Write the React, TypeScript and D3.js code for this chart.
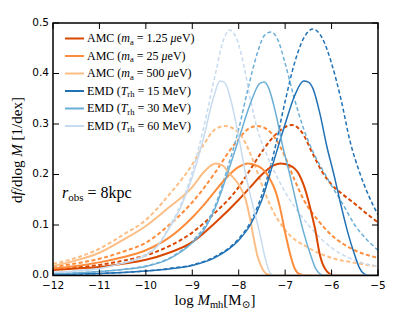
import React from 'react';
import * as d3 from 'd3';

// log10 M_mh vs df/dlogM
const amc125Solid: [number, number][] = [
  [-12, 0.011], [-11.5, 0.014], [-11, 0.017], [-10.5, 0.023], [-10, 0.031], [-9.5, 0.045],
  [-9, 0.066], [-8.5, 0.105], [-8, 0.15], [-7.75, 0.175], [-7.5, 0.2], [-7.25, 0.218],
  [-7.1, 0.222], [-6.9, 0.218], [-6.7, 0.2], [-6.55, 0.165], [-6.45, 0.13], [-6.35, 0.09],
  [-6.25, 0.04], [-6.1, 0.008], [-5.95, 0], [-5, 0],
];
const amc25Solid: [number, number][] = [
  [-12, 0.014], [-11.5, 0.019], [-11, 0.026], [-10.5, 0.036], [-10, 0.05], [-9.5, 0.075],
  [-9, 0.115], [-8.75, 0.14], [-8.5, 0.168], [-8.25, 0.195], [-8, 0.215], [-7.8, 0.222],
  [-7.55, 0.215], [-7.35, 0.195], [-7.2, 0.165], [-7.1, 0.13], [-7.0, 0.085], [-6.9, 0.045],
  [-6.8, 0.015], [-6.7, 0.003], [-6.55, 0], [-5, 0],
];
const amc500Solid: [number, number][] = [
  [-12, 0.019], [-11.5, 0.03], [-11, 0.045], [-10.5, 0.07], [-10, 0.098], [-9.5, 0.135],
  [-9, 0.175], [-8.75, 0.205], [-8.5, 0.222], [-8.35, 0.218], [-8.2, 0.202], [-8.0, 0.18],
  [-7.85, 0.15], [-7.75, 0.11], [-7.7, 0.085], [-7.6, 0.04], [-7.5, 0.015], [-7.4, 0.003],
  [-7.25, 0], [-5, 0],
];
const amc125Dashed: [number, number][] = [
  [-12, 0.012], [-11.5, 0.016], [-11, 0.021], [-10.5, 0.029], [-10, 0.04], [-9.5, 0.058],
  [-9, 0.085], [-8.5, 0.125], [-8, 0.175], [-7.75, 0.21], [-7.5, 0.245], [-7.25, 0.275],
  [-7.0, 0.294], [-6.85, 0.298], [-6.65, 0.285], [-6.4, 0.24], [-6.2, 0.205], [-6.0, 0.18],
  [-5.75, 0.16], [-5.5, 0.142], [-5.25, 0.123], [-5.0, 0.105],
];
const amc25Dashed: [number, number][] = [
  [-12, 0.017], [-11.5, 0.024], [-11, 0.033], [-10.5, 0.047], [-10, 0.065], [-9.5, 0.1],
  [-9, 0.145], [-8.5, 0.205], [-8.25, 0.24], [-8, 0.27], [-7.8, 0.29], [-7.6, 0.296],
  [-7.4, 0.29], [-7.2, 0.27], [-7.0, 0.235], [-6.8, 0.19], [-6.6, 0.15], [-6.3, 0.11],
  [-6.0, 0.08], [-5.5, 0.05], [-5.0, 0.035],
];
const amc500Dashed: [number, number][] = [
  [-12, 0.023], [-11.5, 0.035], [-11, 0.053], [-10.5, 0.08], [-10, 0.11], [-9.5, 0.16],
  [-9, 0.22], [-8.75, 0.26], [-8.5, 0.29], [-8.3, 0.296], [-8.1, 0.29], [-7.9, 0.27],
  [-7.7, 0.23], [-7.5, 0.18], [-7.3, 0.135], [-7.0, 0.09], [-6.5, 0.055], [-6.0, 0.035],
  [-5.5, 0.025], [-5.0, 0.018],
];
const emd15Solid: [number, number][] = [
  [-12, 0.002], [-11.5, 0.003], [-11, 0.004], [-10.5, 0.006], [-10, 0.009], [-9.5, 0.013],
  [-9, 0.02], [-8.5, 0.036], [-8.0, 0.07], [-7.75, 0.1], [-7.5, 0.15], [-7.25, 0.225],
  [-7.0, 0.3], [-6.8, 0.355], [-6.6, 0.385], [-6.5, 0.383], [-6.4, 0.37], [-6.25, 0.32],
  [-6.1, 0.255], [-5.95, 0.2], [-5.8, 0.14], [-5.65, 0.085], [-5.5, 0.04], [-5.4, 0.015],
  [-5.3, 0.003], [-5.2, 0], [-5, 0],
];
const emd30Solid: [number, number][] = [
  [-12, 0.004], [-11.5, 0.005], [-11, 0.008], [-10.5, 0.012], [-10, 0.018], [-9.5, 0.033],
  [-9.0, 0.065], [-8.75, 0.09], [-8.5, 0.135], [-8.25, 0.2], [-8.0, 0.27], [-7.75, 0.34],
  [-7.55, 0.38], [-7.45, 0.383], [-7.35, 0.37], [-7.2, 0.32], [-7.05, 0.255], [-6.9, 0.2],
  [-6.75, 0.14], [-6.6, 0.085], [-6.45, 0.04], [-6.35, 0.015], [-6.25, 0.003], [-6.15, 0],
  [-5, 0],
];
const emd60Solid: [number, number][] = [
  [-12, 0.006], [-11.5, 0.009], [-11, 0.014], [-10.5, 0.024], [-10, 0.04], [-9.75, 0.058],
  [-9.5, 0.093], [-9.25, 0.135], [-9.0, 0.195], [-8.75, 0.275], [-8.55, 0.35], [-8.4, 0.385],
  [-8.3, 0.382], [-8.15, 0.34], [-8.0, 0.275], [-7.85, 0.2], [-7.7, 0.14], [-7.55, 0.085],
  [-7.45, 0.042], [-7.35, 0.01], [-7.25, 0], [-5, 0],
];
const emd15Dashed: [number, number][] = [
  [-12, 0.002], [-11, 0.004], [-10, 0.009], [-9.5, 0.014], [-9, 0.021], [-8.5, 0.038],
  [-8.0, 0.073], [-7.75, 0.105], [-7.5, 0.16], [-7.25, 0.24], [-7.0, 0.345], [-6.8, 0.42],
  [-6.6, 0.47], [-6.4, 0.488], [-6.2, 0.47], [-6.0, 0.42], [-5.8, 0.35], [-5.6, 0.265],
  [-5.4, 0.205], [-5.2, 0.158], [-5.0, 0.12],
];
const emd30Dashed: [number, number][] = [
  [-12, 0.004], [-11.5, 0.005], [-11, 0.008], [-10.5, 0.012], [-10, 0.019], [-9.5, 0.034],
  [-9.0, 0.068], [-8.75, 0.095], [-8.5, 0.14], [-8.25, 0.21], [-8.0, 0.29], [-7.8, 0.37],
  [-7.6, 0.44], [-7.45, 0.475], [-7.3, 0.482], [-7.15, 0.465], [-7.0, 0.42], [-6.8, 0.35],
  [-6.6, 0.29], [-6.4, 0.245], [-6.2, 0.21], [-6.0, 0.178], [-5.75, 0.14], [-5.5, 0.1],
  [-5.25, 0.072], [-5.0, 0.05],
];
const emd60Dashed: [number, number][] = [
  [-12, 0.006], [-11.5, 0.009], [-11, 0.015], [-10.5, 0.025], [-10, 0.042], [-9.75, 0.06],
  [-9.5, 0.096], [-9.25, 0.14], [-9.0, 0.205], [-8.75, 0.295], [-8.5, 0.4], [-8.35, 0.46],
  [-8.2, 0.486], [-8.05, 0.47], [-7.9, 0.42], [-7.75, 0.35], [-7.6, 0.29], [-7.4, 0.24],
  [-7.2, 0.2], [-7.0, 0.165], [-6.75, 0.13], [-6.5, 0.1], [-6.25, 0.075], [-6.0, 0.055],
  [-5.5, 0.03], [-5.0, 0.018],
];

const xTicks = [-12, -11, -10, -9, -8, -7, -6, -5];
const yTicks = [0, 0.1, 0.2, 0.3, 0.4, 0.5];

const amcMasses = ['1.25', '25', '500'];
const emdTemps = ['15', '30', '60'];
const amcColors = ['#d94801', '#fd8d3c', '#fdbe85'];
const emdColors = ['#2171b5', '#6baed6', '#c6dbef'];

const W = 407;
const H = 317;
const SERIF = '"Liberation Serif", "DejaVu Serif", serif';
const SANS = '"DejaVu Sans", sans-serif';

export default function App() {
  const x = d3.scaleLinear().domain([-12, -5]).range([53, 378]);
  const y = d3.scaleLinear().domain([0, 0.5]).range([275.5, 23]);
  const line = d3
    .line<[number, number]>()
    .x((d) => x(d[0]))
    .y((d) => y(d[1]))
    .curve(d3.curveMonotoneX);

  const solids = [
    { d: amc125Solid, c: amcColors[0], w: 2 },
    { d: amc25Solid, c: amcColors[1], w: 2 },
    { d: amc500Solid, c: amcColors[2], w: 2 },
    { d: emd15Solid, c: emdColors[0], w: 1.5 },
    { d: emd30Solid, c: emdColors[1], w: 1.5 },
    { d: emd60Solid, c: emdColors[2], w: 1.5 },
  ];
  const dashes = [
    { d: amc125Dashed, c: amcColors[0], w: 2 },
    { d: amc25Dashed, c: amcColors[1], w: 2 },
    { d: amc500Dashed, c: amcColors[2], w: 2 },
    { d: emd15Dashed, c: emdColors[0], w: 1.5 },
    { d: emd30Dashed, c: emdColors[1], w: 1.5 },
    { d: emd60Dashed, c: emdColors[2], w: 1.5 },
  ];

  const [x0, x1] = x.range();
  const [y0, y1] = y.range();
  const legendY = (i: number) => 38.5 + i * 17.5;

  return (
    <svg
      width={W}
      height={H}
      style={{ position: 'absolute', left: 0, top: 0, background: '#fff' }}
    >
      <defs>
        <clipPath id="plot">
          <rect x={x0} y={y1} width={x1 - x0} height={y0 - y1} />
        </clipPath>
      </defs>
      <g clipPath="url(#plot)" fill="none">
        {dashes.map((s, i) => (
          <path key={'d' + i} d={line(s.d) || ''} stroke={s.c} strokeWidth={s.w} strokeDasharray="4,2.5" />
        ))}
        {solids.map((s, i) => (
          <path key={'s' + i} d={line(s.d) || ''} stroke={s.c} strokeWidth={s.w} />
        ))}
      </g>

      {/* ticks, inward on all sides */}
      <g stroke="#000" strokeWidth={1}>
        {xTicks.map((t) => (
          <g key={'xt' + t}>
            <line x1={x(t)} x2={x(t)} y1={y0} y2={y0 - 6} />
            <line x1={x(t)} x2={x(t)} y1={y1} y2={y1 + 6} />
          </g>
        ))}
        {yTicks.map((t) => (
          <g key={'yt' + t}>
            <line x1={x0} x2={x0 + 6} y1={y(t)} y2={y(t)} />
            <line x1={x1} x2={x1 - 6} y1={y(t)} y2={y(t)} />
          </g>
        ))}
      </g>
      <rect x={x0} y={y1} width={x1 - x0} height={y0 - y1} fill="none" stroke="#000" strokeWidth={1.5} />

      <g fontFamily={SANS} fontSize={10.5} fill="#000">
        {xTicks.map((t) => (
          <text key={'xl' + t} x={x(t)} y={y0 + 13} textAnchor="middle">
            {t < 0 ? '\u2212' + Math.abs(t) : t}
          </text>
        ))}
        {yTicks.map((t) => (
          <text key={'yl' + t} x={x0 - 4} y={y(t) - 1} dy="0.36em" textAnchor="end">
            {t.toFixed(1)}
          </text>
        ))}
      </g>

      {/* axis labels */}
      <text x={215} y={305} textAnchor="middle" fontFamily={SERIF} fontSize={15}>
        log <tspan fontStyle="italic">M</tspan>
        <tspan fontSize={10.5} dy={3}>mh</tspan>
        <tspan dy={-3}>[M</tspan>
        <tspan fontSize={10.5} dy={3}>{'\u2299'}</tspan>
        <tspan dy={-3}>]</tspan>
      </text>
      <text
        transform={`translate(22, 150) rotate(-90)`}
        textAnchor="middle"
        fontFamily={SERIF}
        fontSize={15}
      >
        d<tspan fontStyle="italic">f</tspan>/dlog <tspan fontStyle="italic">M</tspan> [1/dex]
      </text>

      <text x={62} y={198} fontFamily={SERIF} fontSize={16}>
        <tspan fontStyle="italic">r</tspan>
        <tspan fontSize={11} dy={3}>obs</tspan>
        <tspan dy={-3}> = 8kpc</tspan>
      </text>

      {/* legend */}
      <g fontFamily={SERIF} fontSize={12}>
        {amcMasses.map((m, i) => (
          <g key={'la' + i}>
            <line x1={65} x2={84} y1={legendY(i)} y2={legendY(i)} stroke={amcColors[i]} strokeWidth={2} />
            <text x={87} y={legendY(i)} dy="0.33em">
              AMC (<tspan fontStyle="italic">m</tspan>
              <tspan fontSize={8.5} dy={2.5}>a</tspan>
              <tspan dy={-2.5}> = {m} </tspan>
              <tspan fontStyle="italic">{'\u03bc'}</tspan>eV)
            </text>
          </g>
        ))}
        {emdTemps.map((t, i) => (
          <g key={'le' + i}>
            <line x1={65} x2={84} y1={legendY(i + 3)} y2={legendY(i + 3)} stroke={emdColors[i]} strokeWidth={2} />
            <text x={87} y={legendY(i + 3)} dy="0.33em">
              EMD (<tspan fontStyle="italic">T</tspan>
              <tspan fontSize={8.5} dy={2.5}>rh</tspan>
              <tspan dy={-2.5}> = {t} MeV)</tspan>
            </text>
          </g>
        ))}
      </g>
    </svg>
  );
}
